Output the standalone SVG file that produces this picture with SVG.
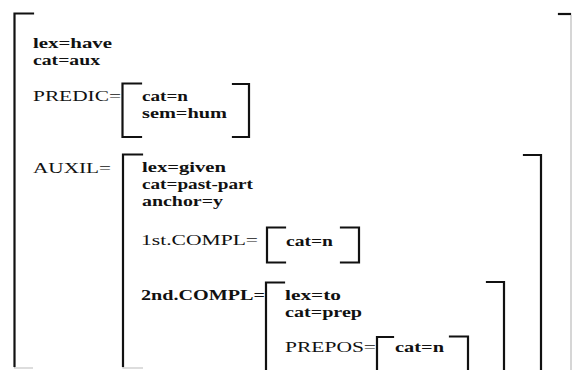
<svg xmlns="http://www.w3.org/2000/svg" width="572" height="370" viewBox="0 0 572 370">
<style>
.br{fill:none;stroke:#111;stroke-width:2.2;stroke-linecap:square}
.fa{fill:none;stroke:#bbb;stroke-width:1.2}
text{font-family:"Liberation Serif","Times New Roman",serif;font-size:15.3px;fill:#111}
.v{font-weight:bold}
</style>
<rect width="572" height="370" fill="#fff"/>
<g id="root">
<path class="br" d="M33,13.5 H14.5 V366"/>
<path class="fa" d="M14.5,367 V368 H33"/>
<path class="br" d="M559,14 H570"/>
<path class="fa" d="M571,15 V370"/>
<text class="v" x="33" y="48" textLength="79" lengthAdjust="spacingAndGlyphs">lex=have</text>
<text class="v" x="33" y="65" textLength="67" lengthAdjust="spacingAndGlyphs">cat=aux</text>
</g>
<g id="predic">
<text x="33" y="101" textLength="88" lengthAdjust="spacingAndGlyphs">PREDIC=</text>
<path class="br" d="M141,83.5 H122.5 V137 H141"/>
<path class="br" d="M233,84 H249 V137 H233"/>
<text class="v" x="142" y="101" textLength="46" lengthAdjust="spacingAndGlyphs">cat=n</text>
<text class="v" x="142" y="118" textLength="85" lengthAdjust="spacingAndGlyphs">sem=hum</text>
</g>
<g id="auxil">
<text x="33" y="173" textLength="78" lengthAdjust="spacingAndGlyphs">AUXIL=</text>
<path class="br" d="M142,154.5 H123 V366"/>
<path class="fa" d="M123,367 V368 H143"/>
<path class="br" d="M524,155 H541 V372"/>
<text class="v" x="142" y="172" textLength="84" lengthAdjust="spacingAndGlyphs">lex=given</text>
<text class="v" x="142" y="189" textLength="111" lengthAdjust="spacingAndGlyphs">cat=past-part</text>
<text class="v" x="142" y="206" textLength="81" lengthAdjust="spacingAndGlyphs">anchor=y</text>
</g>
<g id="compl1">
<text x="141" y="245" textLength="117" lengthAdjust="spacingAndGlyphs">1st.COMPL=</text>
<path class="br" d="M285,227.5 H267 V262.5 H285"/>
<path class="br" d="M341,227.5 H359 V262.5 H341"/>
<text class="v" x="286" y="246" textLength="47" lengthAdjust="spacingAndGlyphs">cat=n</text>
</g>
<g id="compl2">
<text class="v" x="141" y="300" textLength="124" lengthAdjust="spacingAndGlyphs">2nd.COMPL=</text>
<path class="br" d="M284,282.5 H266 V372"/>
<path class="br" d="M487,282 H504 V372"/>
<text class="v" x="285" y="300" textLength="56" lengthAdjust="spacingAndGlyphs">lex=to</text>
<text class="v" x="285" y="317" textLength="77" lengthAdjust="spacingAndGlyphs">cat=prep</text>
</g>
<g id="prepos">
<text x="285" y="352" textLength="91" lengthAdjust="spacingAndGlyphs">PREPOS=</text>
<path class="br" d="M393,337 H377 V372"/>
<path class="br" d="M450,336.5 H468 V372"/>
<text class="v" x="395" y="352" textLength="49" lengthAdjust="spacingAndGlyphs">cat=n</text>
</g>
</svg>
